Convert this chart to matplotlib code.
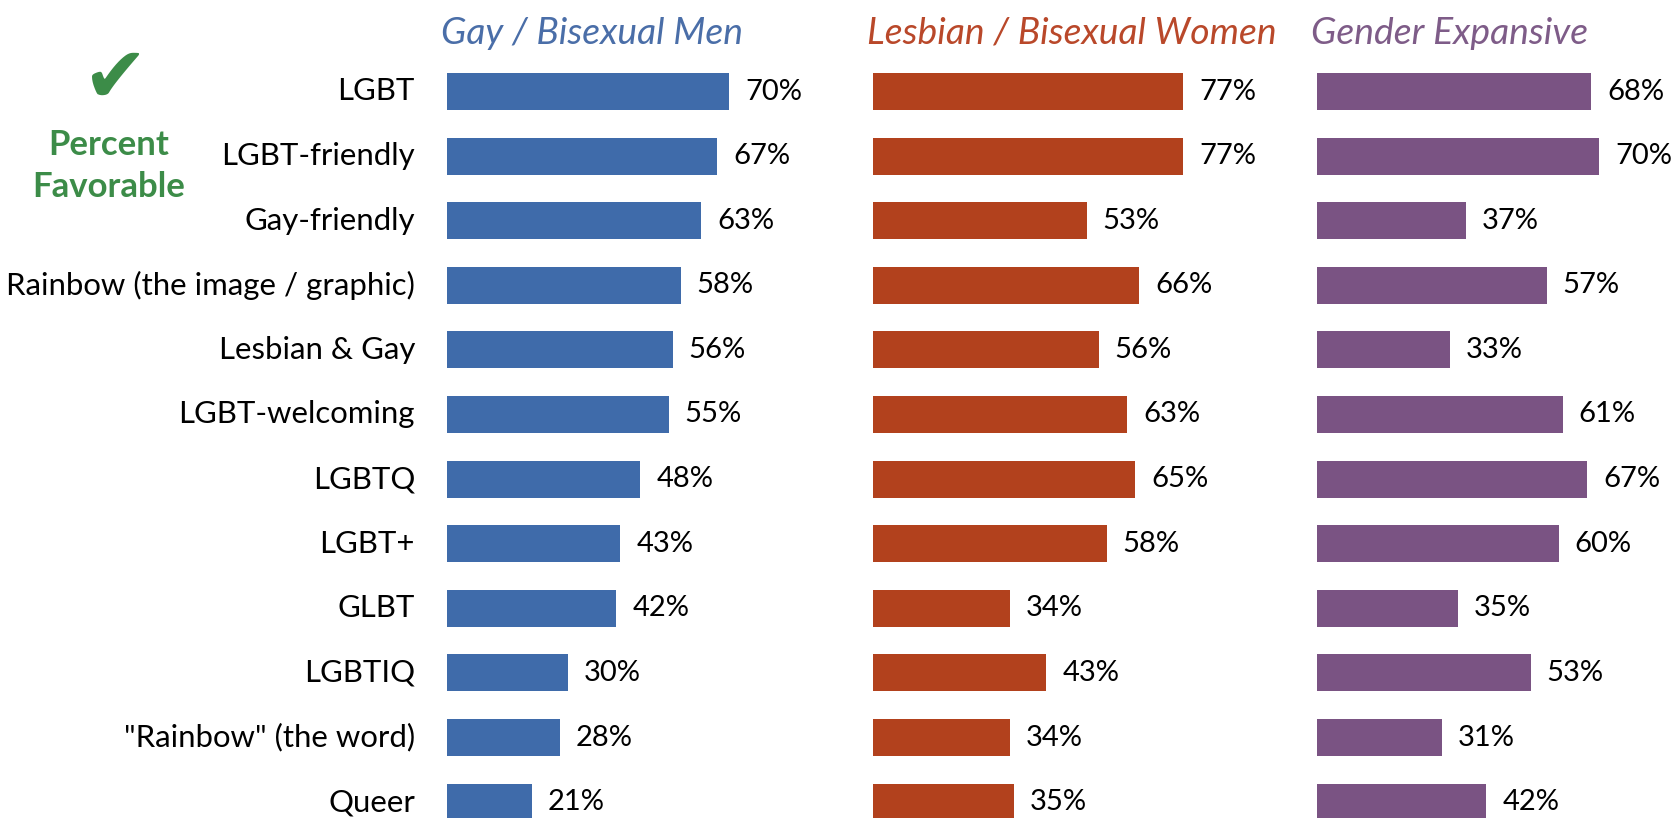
import numpy as np
import matplotlib
matplotlib.use("Agg")
import matplotlib.pyplot as plt

categories = ["LGBT", "LGBT-friendly", "Gay-friendly", "Rainbow (the image / graphic)",
              "Lesbian & Gay", "LGBT-welcoming", "LGBTQ", "LGBT+", "GLBT", "LGBTIQ",
              "\"Rainbow\" (the word)", "Queer"]
gay_bi_men = [70, 67, 63, 58, 56, 55, 48, 43, 42, 30, 28, 21]
lesbian_bi_women = [77, 77, 53, 66, 56, 63, 65, 58, 34, 43, 34, 35]
gender_expansive = [68, 70, 37, 57, 33, 61, 67, 60, 35, 53, 31, 42]
group_titles = ["Gay / Bisexual Men", "Lesbian / Bisexual Women", "Gender Expansive"]

bar_colors = ["#3F6BAA", "#B2411D", "#7A5383"]
title_colors = ["#4A6EA8", "#B9482A", "#7E5C88"]
green = "#3C8C48"

W, H = 1674, 818
DPI = 100
fig = plt.figure(figsize=(W / DPI, H / DPI), dpi=DPI)
fig.patch.set_facecolor("white")

FONT = "Lato"
px_per_unit = 4.03           # pixels per percentage point
row_px = 64.6                # vertical spacing of rows
first_row_px = 91.5          # centre of first row from top
bar_h = 37 / row_px
panel_left_px = [447, 873, 1317]
xmax = 100

n = len(categories)
y = np.arange(n)
y_top = -first_row_px / row_px
y_bot = y_top + H / row_px

series = [gay_bi_men, lesbian_bi_women, gender_expansive]
for k, (vals, left) in enumerate(zip(series, panel_left_px)):
    ax = fig.add_axes([left / W, 0, xmax * px_per_unit / W, 1])
    ax.set_facecolor("none")
    ax.barh(y, vals, height=bar_h, color=bar_colors[k], clip_on=False)
    ax.set_xlim(0, xmax)
    ax.set_ylim(y_bot, y_top)
    ax.axis("off")
    for yi, v in zip(y, vals):
        ax.annotate(f"{v}%", xy=(v, yi), xytext=(16 * 72 / DPI, 0),
                    textcoords="offset points", ha="left", va="center",
                    fontsize=21, family=FONT, color="black")
    ax.annotate(group_titles[k], xy=(0, 1 - 33 / H), xycoords=("data", "axes fraction"),
                xytext=(-6 * 72 / DPI, 0), textcoords="offset points",
                ha="left", va="center", fontsize=26.8, family=FONT, style="italic",
                color=title_colors[k], annotation_clip=False)
    if k == 0:
        for yi, lab in zip(y, categories):
            ax.annotate(lab, xy=(0, yi), xytext=(-32 * 72 / DPI, 0),
                        textcoords="offset points", ha="right", va="center",
                        fontsize=22.4, family=FONT, color="black")

fig.text(116 / W, 1 - 80 / H, "\u2714", ha="center", va="center",
         fontsize=56, color=green, family="DejaVu Sans")
fig.text(109 / W, 1 - 145 / H, "Percent", ha="center", va="center",
         fontsize=25, fontweight="bold", color=green, family=FONT)
fig.text(109 / W, 1 - 187 / H, "Favorable", ha="center", va="center",
         fontsize=25, fontweight="bold", color=green, family=FONT)

fig.savefig("out.png", dpi=DPI, facecolor="white")
